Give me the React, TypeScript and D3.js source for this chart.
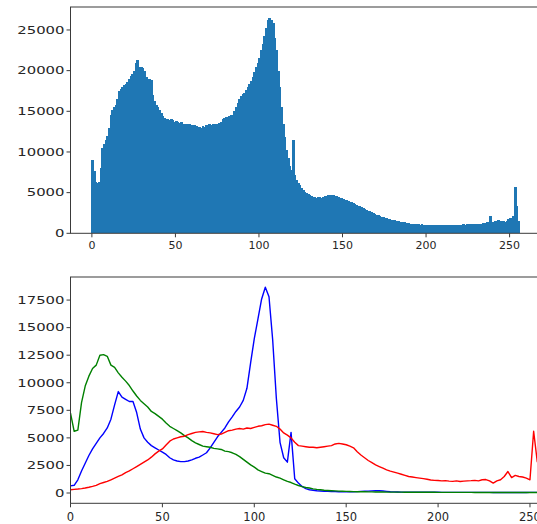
import React from 'react';
import * as d3 from 'd3';

const W = 537;
const H = 524;

// grayscale histogram, 256 bins
const grayCounts = [
  9000, 7700, 6300, 6200, 6300, 8000, 10500, 11000, 11500, 12000, 13000, 14500, 15200, 15500, 15800, 16500,
  17500, 17800, 18000, 18200, 18400, 18600, 19000, 19300, 19600, 20000, 21000, 21300, 20500, 20400, 20300, 20000,
  19200, 19000, 19000, 18900, 17000, 16300, 15800, 15500, 15200, 14800, 14400, 14200, 14100, 14000, 13900, 14000,
  13900, 13700, 13800, 13700, 13600, 13700, 13500, 13400, 13500, 13300, 13400, 13300, 13200, 13300, 13200, 13100,
  13100, 13000, 13200, 13100, 13300, 13200, 13400, 13300, 13400, 13500, 13400, 13500, 13600, 13700, 14000, 14200,
  14300, 14300, 14400, 14500, 14600, 15000, 15500, 16000, 16500, 16900, 17100, 17300, 17600, 18000, 18400, 18700,
  19200, 19800, 20400, 21000, 21600, 22500, 23300, 24200, 25200, 26200, 26500, 26200, 25800, 24000, 22500, 20000,
  18000, 15500, 13500, 11800, 10300, 9300, 8300, 7800, 11500, 7200, 6600, 6200, 5900, 5600, 5300, 5100,
  4900, 4800, 4700, 4600, 4500, 4500, 4400, 4500, 4500, 4400, 4500, 4600, 4600, 4700, 4600, 4700,
  4700, 4600, 4600, 4500, 4400, 4300, 4200, 4100, 4100, 4000, 3900, 3800, 3700, 3600, 3500, 3400,
  3300, 3200, 3100, 3000, 2900, 2800, 2700, 2600, 2450, 2400, 2300, 2200, 2130, 2050, 1950, 1900,
  1850, 1800, 1750, 1680, 1640, 1600, 1550, 1500, 1450, 1400, 1380, 1330, 1300, 1250, 1200, 1180,
  1150, 1130, 1100, 1100, 1080, 1100, 1070, 1050, 1060, 1040, 1050, 1030, 1050, 1020, 1040, 1030,
  1020, 1040, 1010, 1030, 1000, 1020, 1040, 1010, 1030, 1050, 1020, 1060, 1080, 1050, 1100, 1070,
  1120, 1150, 1100, 1180, 1200, 1150, 1100, 1130, 1160, 1200, 1250, 1300, 1400, 1450, 2100, 1400,
  1450, 1500, 1450, 1600, 1500, 1550, 1500, 1450, 1500, 1800, 1850, 1700, 2100, 5700, 3300, 1500,
];

// per-channel histograms, sampled every 2nd bin (0, 2, ..., 254)
const lineBins = d3.range(0, 256, 2);

const blueCounts = [
  650, 700, 1200, 2000, 2700, 3400, 4000, 4500, 5000, 5400, 5900, 6700, 8000, 9200, 8700, 8500,
  8300, 8300, 7300, 5800, 5000, 4600, 4300, 4100, 3900, 3700, 3500, 3200, 3000, 2900, 2850, 2850,
  2900, 3000, 3150, 3250, 3450, 3650, 4100, 4600, 5100, 5500, 5900, 6450, 6900, 7400, 7800, 8400,
  9500, 11800, 14000, 15800, 17600, 18660, 17800, 13900, 8600, 4600, 3200, 2800, 5500, 1300, 900, 600,
  400, 300, 250, 200, 180, 160, 150, 140, 130, 120, 110, 100, 100, 110, 130, 150,
  160, 170, 190, 200, 200, 180, 150, 120, 100, 90, 85, 80, 80, 75, 75, 70,
  70, 70, 65, 65, 65, 60, 60, 60, 60, 60, 55, 55, 55, 55, 55, 55,
  55, 55, 55, 50, 50, 50, 50, 50, 50, 50, 50, 50, 50, 55, 60, 60,
];

const greenCounts = [
  7250, 5600, 5700, 8200, 9700, 10600, 11300, 11600, 12500, 12550, 12400, 11600, 11400, 10900, 10500, 10150,
  9750, 9250, 8800, 8400, 8100, 7800, 7400, 7200, 6950, 6700, 6350, 6050, 5850, 5650, 5450, 5200,
  5000, 4750, 4550, 4400, 4250, 4200, 4150, 4050, 4000, 3950, 3800, 3750, 3650, 3500, 3300, 3050,
  2800, 2550, 2350, 2100, 1950, 1800, 1750, 1600, 1450, 1350, 1200, 1050, 950, 800, 680, 580,
  500, 450, 380, 330, 290, 250, 230, 210, 190, 175, 160, 150, 140, 130, 120, 115,
  110, 105, 100, 95, 90, 90, 85, 85, 80, 80, 80, 75, 75, 75, 70, 70,
  70, 65, 65, 65, 60, 60, 60, 60, 55, 55, 55, 55, 55, 55, 50, 50,
  50, 50, 50, 50, 50, 50, 50, 50, 50, 50, 50, 50, 50, 50, 50, 50,
];

const redCounts = [
  300, 330, 360, 400, 450, 520, 600, 700, 850, 950, 1050, 1200, 1350, 1500, 1650, 1850,
  2000, 2200, 2400, 2600, 2800, 3000, 3250, 3550, 3800, 4000, 4350, 4700, 4900, 5000, 5100, 5150,
  5300, 5400, 5500, 5550, 5580, 5500, 5450, 5380, 5300, 5350, 5500, 5650, 5700, 5800, 5850, 5800,
  5900, 5850, 5950, 6050, 6100, 6200, 6250, 6150, 6050, 5800, 5450, 5250, 5000, 4600, 4300, 4250,
  4200, 4150, 4150, 4100, 4150, 4200, 4250, 4300, 4450, 4500, 4450, 4380, 4250, 4100, 3750, 3450,
  3200, 2950, 2750, 2550, 2400, 2250, 2100, 1980, 1900, 1800, 1700, 1600, 1500, 1450, 1400, 1350,
  1300, 1250, 1180, 1150, 1130, 1100, 1120, 1080, 1060, 1100, 1050, 1080, 1100, 1120, 1150, 1100,
  1200, 1220, 1100, 900, 1100, 1200, 1500, 1950, 1400, 1600, 1500, 1450, 1350, 1200, 5600, 2800,
];

const xTicks = [0, 50, 100, 150, 200, 250];
const topYTicks = [0, 5000, 10000, 15000, 20000, 25000];
const bottomYTicks = [0, 2500, 5000, 7500, 10000, 12500, 15000, 17500];

const channels = [
  { name: 'b', values: blueCounts, color: '#0000ff' },
  { name: 'g', values: greenCounts, color: '#008000' },
  { name: 'r', values: redCounts, color: '#ff0000' },
];

const font = "'DejaVu Sans', sans-serif";
const textColor = '#262626';
const spineColor = '#3a3a3a';

const App: React.FC = () => {
  // top panel: grayscale histogram
  const top = { left: 70.5, right: 541, top: 7, bottom: 233.3 };
  const xTop = d3.scaleLinear().domain([-12.8, 268.8]).range([top.left, top.right]);
  const yTop = d3
    .scaleLinear()
    .domain([0, (d3.max(grayCounts) as number) * 1.05])
    .range([top.bottom, top.top]);

  // bottom panel: per-channel lines
  const bot = { left: 70.5, right: 541, top: 277, bottom: 503.3 };
  const xBot = d3.scaleLinear().domain([0, 256]).range([bot.left, bot.right]);
  const maxLine = d3.max(channels, (c) => d3.max(c.values) as number) as number;
  const yBot = d3
    .scaleLinear()
    .domain([-0.05 * maxLine, 1.05 * maxLine])
    .range([bot.bottom, bot.top]);

  const line = d3
    .line<number>()
    .x((_, i) => xBot(lineBins[i]))
    .y((d) => yBot(d));

  const yLabel = (x: number, y: number, t: number) => (
    <text
      key={'yl' + y}
      transform={`translate(${x},${y}) scale(1.35,1)`}
      textAnchor="end"
      dominantBaseline="central"
      fontSize={11}
      fontFamily={font}
      fill={textColor}
    >
      {t}
    </text>
  );

  return (
    <svg
      width={W}
      height={H}
      style={{ position: 'absolute', left: 0, top: 0, background: '#fff' }}
    >
      {/* histogram bars, snapped to pixels so neighbours touch */}
      <g shapeRendering="crispEdges">
        {grayCounts.map((v, i) => {
          const x0 = Math.floor(xTop(i));
          const x1 = Math.ceil(xTop(i + 1));
          return (
            <rect
              key={i}
              x={x0}
              y={yTop(v)}
              width={x1 - x0}
              height={yTop(0) - yTop(v)}
              fill="#1f77b4"
            />
          );
        })}
      </g>
      <rect
        x={top.left}
        y={top.top}
        width={top.right - top.left}
        height={top.bottom - top.top}
        fill="none"
        stroke={spineColor}
        strokeWidth={1}
      />
      {xTicks.map((t) => (
        <g key={'xt' + t}>
          <line x1={xTop(t)} x2={xTop(t)} y1={top.bottom} y2={top.bottom + 4} stroke={spineColor} />
          <text x={xTop(t)} y={248.5} textAnchor="middle" fontSize={11} fontFamily={font} fill={textColor}>
            {t}
          </text>
        </g>
      ))}
      {topYTicks.map((t) => (
        <g key={'yt' + t}>
          <line x1={top.left - 4} x2={top.left} y1={yTop(t)} y2={yTop(t)} stroke={spineColor} />
          {yLabel(top.left - 6, yTop(t), t)}
        </g>
      ))}

      {/* channel lines */}
      <g fill="none" strokeWidth={1.4} strokeLinejoin="round">
        {channels.map((c) => (
          <path key={c.name} d={line(c.values) || ''} stroke={c.color} />
        ))}
      </g>
      <rect
        x={bot.left}
        y={bot.top}
        width={bot.right - bot.left}
        height={bot.bottom - bot.top}
        fill="none"
        stroke={spineColor}
        strokeWidth={1}
      />
      {xTicks.map((t) => (
        <g key={'bxt' + t}>
          <line x1={xBot(t)} x2={xBot(t)} y1={bot.bottom} y2={bot.bottom + 4} stroke={spineColor} />
          <text x={xBot(t)} y={521} textAnchor="middle" fontSize={11.5} fontFamily={font} fill={textColor}>
            {t}
          </text>
        </g>
      ))}
      {bottomYTicks.map((t) => (
        <g key={'byt' + t}>
          <line x1={bot.left - 4} x2={bot.left} y1={yBot(t)} y2={yBot(t)} stroke={spineColor} />
          {yLabel(bot.left - 6, yBot(t), t)}
        </g>
      ))}
    </svg>
  );
};

export default App;
